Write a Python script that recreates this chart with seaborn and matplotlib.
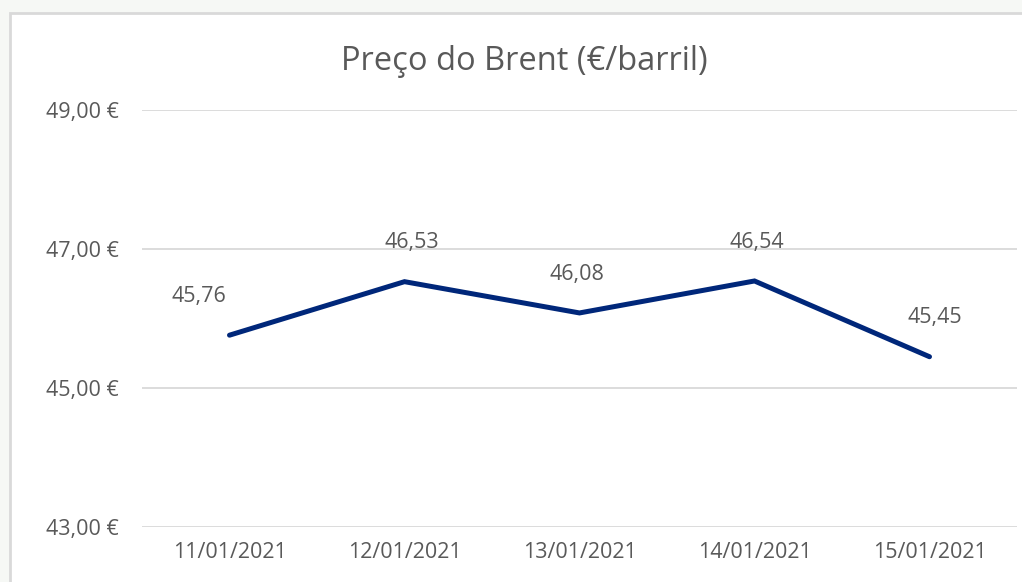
import pandas as pd
import seaborn as sns
import matplotlib.pyplot as plt
from matplotlib.patches import Rectangle

# Data
dates = ['11/01/2021', '12/01/2021', '13/01/2021', '14/01/2021', '15/01/2021']
prices = [45.76, 46.53, 46.08, 46.54, 45.45]
y_ticks = [43, 45, 47, 49]

df = pd.DataFrame({'Data': dates, 'Preço': prices})

sns.set_style('white')
plt.rcParams['font.family'] = ['Open Sans', 'DejaVu Sans']
text_color = '#595959'
line_color = '#00277A'

fig = plt.figure(figsize=(10.22, 5.82), dpi=100, facecolor='#f6f8f5')

# white chart box with light grey border (behind the axes)
fig.patches.append(Rectangle((10 / 1022, -0.05), 1.1, 1 - 13 / 582 + 0.05,
                             transform=fig.transFigure, facecolor='white',
                             edgecolor='#d9d9d9', linewidth=2, zorder=-5))

ax = fig.add_axes([142 / 1022, 1 - 527 / 582, 875 / 1022, 417 / 582])
ax.set_facecolor('none')

sns.lineplot(data=df, x='Data', y='Preço', ax=ax, color=line_color,
             linewidth=3.6, solid_capstyle='round', solid_joinstyle='miter')

ax.set_xlim(-0.5, len(dates) - 0.5)
ax.set_ylim(43, 49)
ax.set_yticks(y_ticks)
ax.set_yticklabels([f'{v:.2f} €'.replace('.', ',') for v in y_ticks])
ax.grid(axis='y', color='#d9d9d9', linewidth=1.3)
ax.set_axisbelow(True)
ax.tick_params(axis='both', length=0, labelsize=15.5, labelcolor=text_color)
ax.tick_params(axis='y', pad=17)
ax.tick_params(axis='x', pad=11)
for s in ax.spines.values():
    s.set_visible(False)
ax.set_xlabel('')
ax.set_ylabel('')

# data labels above the points
label_dx = [-22, 5, -2, 2, 4]
for i, v in enumerate(prices):
    ax.annotate(f'{v:.2f}'.replace('.', ','), (i, v), xytext=(label_dx[i], 28),
                textcoords='offset points', ha='center', va='center',
                fontsize=15.5, color=text_color)

fig.text(524 / 1022, 1 - 61 / 582, 'Preço do Brent (€/barril)', ha='center',
         va='center', fontsize=23.5, color=text_color)

fig.savefig('out.png', dpi=100, facecolor=fig.get_facecolor())
